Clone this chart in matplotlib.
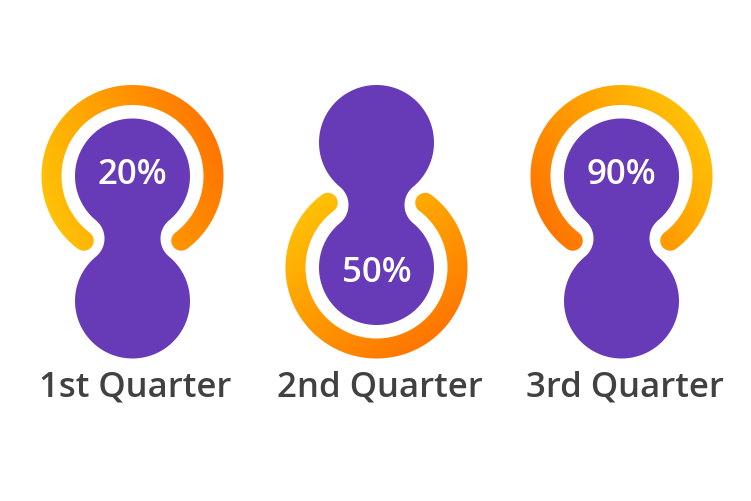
import numpy as np
import matplotlib.pyplot as plt
from matplotlib.patches import Polygon
from matplotlib.colors import LinearSegmentedColormap

quarters = ['1st Quarter', '2nd Quarter', '3rd Quarter']
values = [20, 50, 90]
ring_on = ['top', 'bottom', 'top']      # which bulb carries the ring
grad_angle = [20, -55, 215]             # direction of the yellow->orange gradient (deg)

purple = '#673ab7'
cmap = LinearSegmentedColormap.from_list('ring', ['#ffc107', '#ff9c00', '#ff7600'])

R = 57.5          # bulb radius
D = 125.0         # distance between bulb centres
neck = 28.0       # half width of the neck
RA = 81.0         # ring centre radius
W = 20.0          # ring width
x_centres = [132.5, 376.5, 621.5]
top_edge = 85.0   # every figure spans the same box vertically


def bulb_outline(cx, cy):
    # two circles joined by concave fillets (metaball look)
    r = ((neck ** 2 + (D / 2) ** 2) - R ** 2) / (2 * (R - neck))
    h = neck + r
    b = np.arctan2(D / 2, h)
    pts = []
    t = np.linspace(-b, np.pi + b, 120)
    pts += list(zip(R * np.cos(t), D / 2 + R * np.sin(t)))
    t = np.linspace(b, -b, 30)
    pts += list(zip(-h + r * np.cos(t), r * np.sin(t)))
    t = np.linspace(np.pi - b, 2 * np.pi + b, 120)
    pts += list(zip(R * np.cos(t), -D / 2 + R * np.sin(t)))
    t = np.linspace(np.pi + b, np.pi - b, 30)
    pts += list(zip(h + r * np.cos(t), r * np.sin(t)))
    pts = np.array(pts)
    return np.column_stack([cx + pts[:, 0], cy - pts[:, 1]])


def ring_outline(cx, cy, a0, a1):
    a0, a1 = np.radians(a0), np.radians(a1)
    ro, ri, hw = RA + W / 2, RA - W / 2, W / 2
    pts = []
    t = np.linspace(a0, a1, 200)
    pts += list(zip(ro * np.cos(t), ro * np.sin(t)))
    t = np.linspace(a1, a1 + np.pi, 30)
    pts += list(zip(RA * np.cos(a1) + hw * np.cos(t), RA * np.sin(a1) + hw * np.sin(t)))
    t = np.linspace(a1, a0, 200)
    pts += list(zip(ri * np.cos(t), ri * np.sin(t)))
    t = np.linspace(a0 + np.pi, a0 + 2 * np.pi, 30)
    pts += list(zip(RA * np.cos(a0) + hw * np.cos(t), RA * np.sin(a0) + hw * np.sin(t)))
    pts = np.array(pts)
    return np.column_stack([cx + pts[:, 0], cy - pts[:, 1]])


fig = plt.figure(figsize=(7.51, 5.01), dpi=100)
ax = fig.add_axes([0, 0, 1, 1])

for i, q in enumerate(quarters):
    cx = x_centres[i]
    if ring_on[i] == 'top':
        cy = top_edge + RA + W / 2
        y_mid = cy + D / 2
        a0, a1 = -53, 233
        ty = cy + 8
    else:
        y_mid = top_edge + R + D / 2
        cy = y_mid + D / 2
        a0, a1 = 127, 413
        ty = cy + 14
    ax.add_patch(Polygon(bulb_outline(cx, y_mid), closed=True, fc=purple, ec='none'))
    ring = Polygon(ring_outline(cx, cy, a0, a1), closed=True, fc='none', ec='none')
    ax.add_patch(ring)
    ext = RA + W
    xs = np.linspace(cx - ext, cx + ext, 300)
    ys = np.linspace(cy - ext, cy + ext, 300)
    X, Y = np.meshgrid(xs, ys)
    g = np.radians(grad_angle[i])
    proj = (X - cx) * np.cos(g) - (Y - cy) * np.sin(g)
    img = ax.imshow(proj, cmap=cmap, vmin=-(RA + W / 2), vmax=RA + W / 2,
                    extent=(cx - ext, cx + ext, cy + ext, cy - ext), origin='upper',
                    interpolation='bilinear')
    img.set_clip_path(ring)
    ax.text(cx, ty, f'{values[i]}%', color='white', fontsize=25,
            fontfamily='Open Sans', fontweight='semibold', ha='center', va='baseline')
    ax.text(cx + 3, 397, q, color='#414141', fontsize=25,
            fontfamily='Open Sans', fontweight='semibold', ha='center', va='baseline')

ax.set_xlim(0, 751)
ax.set_ylim(501, 0)
ax.set_aspect('auto')
ax.axis('off')
fig.savefig('out.png', dpi=100)
